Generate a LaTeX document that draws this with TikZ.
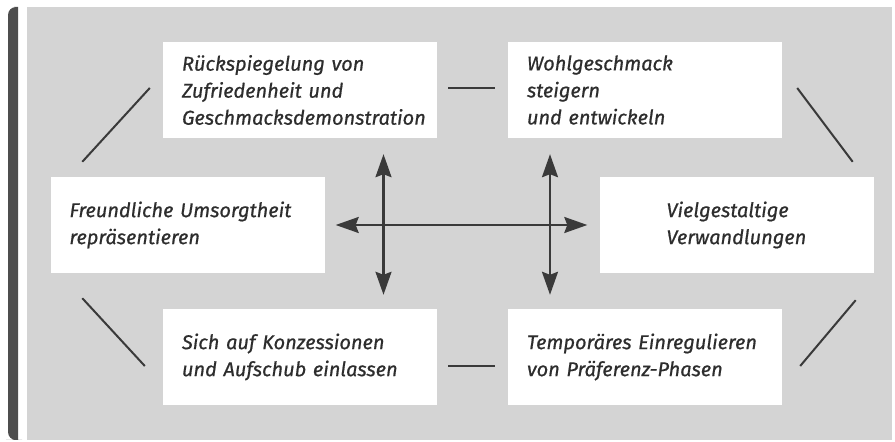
\documentclass[tikz,border=0pt]{standalone}
\usepackage{fontspec}
\setmainfont{Fira Sans}
\newfontfamily\feldfont{Fira Sans}[FakeBold=0.7]
\usetikzlibrary{calc,arrows.meta}

\definecolor{hgrau}{RGB}{212,212,212}
\definecolor{balken}{RGB}{78,78,78}
\definecolor{linie}{RGB}{58,58,58}
\definecolor{schrift}{RGB}{45,45,45}

\begin{document}
\begin{tikzpicture}[
  x=1pt, y=1pt,
  feld/.style = {shape=rectangle, fill=white, inner sep=0pt, minimum width=274pt, minimum height=96pt,
                 text width=236pt, align=left, text=schrift, font=\fontsize{20}{27}\feldfont\itshape},
  strich/.style = {draw=linie, line width=2pt},
  pfeil/.style = {draw=linie, line width=2.2pt,
                  {Stealth[length=23pt,width=16pt,inset=3pt]}-{Stealth[length=23pt,width=16pt,inset=3pt]}}
]
  \useasboundingbox (0,0) rectangle (895,442);
  \fill[hgrau] (27,2) rectangle (892,435);
  \fill[balken] (18,435) -- (14,435) [rounded corners=8pt] -- (8,435) -- (8,2) -- (14,2) [sharp corners] -- (18,2) -- cycle;

  \node[feld] (spiegel) at (300,352) {Rückspiegelung von\\Zufriedenheit und\\Geschmacksdemonstration};
  \node[feld] (geschmack) at (645,352) {Wohlgeschmack\\steigern\\und entwickeln};
  \node[feld] (sorge) at (187.5,217) {Freundliche Umsorgtheit\\repräsentieren};
  \node[feld, text width=140pt] (wandel) at (736.5,217) {Vielgestaltige\\Verwandlungen};
  \node[feld] (konzession) at (300,85) {Sich auf Konzessionen\\und Aufschub einlassen};
  \node[feld] (phasen) at (645,85) {Temporäres Einregulieren\\von Präferenz-Phasen};

  \draw[strich] ([shift={(32,15)}]sorge.north west) -- ([shift={(-13,2)}]spiegel.west);
  \draw[strich] ([shift={(11,2)}]spiegel.east) -- ([shift={(-13,2)}]geschmack.west);
  \draw[strich] ([shift={(15,2)}]geschmack.east) -- ([shift={(-21,15)}]wandel.north east);
  \draw[strich] ([shift={(32,-25)}]sorge.south west) -- ([shift={(-18,-9)}]konzession.west);
  \draw[strich] ([shift={(11,-9)}]konzession.east) -- ([shift={(-13,-9)}]phasen.west);
  \draw[strich] ([shift={(18,-9)}]phasen.east) -- ([shift={(-18,-27)}]wandel.south east);

  \draw[pfeil] ([xshift=11]sorge.east) -- ([xshift=-12]wandel.west);
  \draw[pfeil] ([shift={(83.5,-16)}]spiegel.south) -- ([shift={(83.5,14)}]konzession.north);
  \draw[pfeil] ([shift={(-95,-16)}]geschmack.south) -- ([shift={(-95,14)}]phasen.north);
\end{tikzpicture}
\end{document}
